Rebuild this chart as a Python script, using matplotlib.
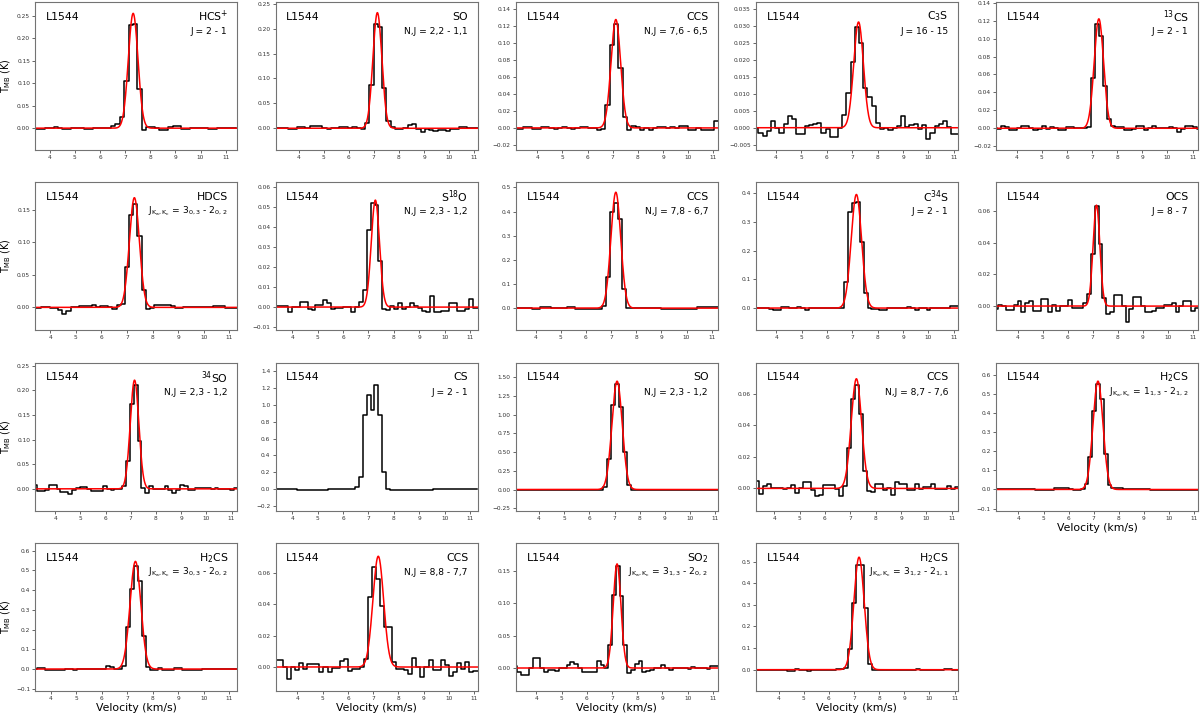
import numpy as np
import matplotlib
matplotlib.use("Agg")
import matplotlib.pyplot as plt
from matplotlib.ticker import MultipleLocator

# ---------------- data ----------------
source = "L1544"
KK = r"J$_{\mathrm{K}_\mathrm{a},\mathrm{K}_\mathrm{c}}$"

molecules = ["HCS$^{+}$", "SO", "CCS", "C$_3$S", "$^{13}$CS",
             "HDCS", "S$^{18}$O", "CCS", "C$^{34}$S", "OCS",
             "$^{34}$SO", "CS", "SO", "CCS", "H$_2$CS",
             "H$_2$CS", "CCS", "SO$_2$", "H$_2$CS"]
transitions = ["J = 2 - 1", "N,J = 2,2 - 1,1", "N,J = 7,6 - 6,5", "J = 16 - 15", "J = 2 - 1",
               KK + " = 3$_{0,3}$ - 2$_{0,2}$", "N,J = 2,3 - 1,2", "N,J = 7,8 - 6,7", "J = 2 - 1", "J = 8 - 7",
               "N,J = 2,3 - 1,2", "J = 2 - 1", "N,J = 2,3 - 1,2", "N,J = 8,7 - 7,6", KK + " = 1$_{1,3}$ - 2$_{1,2}$",
               KK + " = 3$_{0,3}$ - 2$_{0,2}$", "N,J = 8,8 - 7,7", KK + " = 3$_{1,3}$ - 2$_{0,2}$", KK + " = 3$_{1,2}$ - 2$_{1,1}$"]

# first channel velocity (km/s) and channel width (km/s) of each spectrum
v_first = [3.3725, 2.995, 3.011, 3.0625, 3.12,
           3.4155, 3.285, 3.144, 3.1825, 2.997,
           3.0615, 3.3335, 2.985, 3.157, 3.068,
           3.383, 3.03, 3.175, 2.99]
chan_width = [0.175, 0.17, 0.172, 0.165, 0.163,
              0.163, 0.155, 0.156, 0.155, 0.154,
              0.153, 0.153, 0.158, 0.158, 0.152,
              0.158, 0.16, 0.15, 0.16]

# brightness temperatures T_MB (K) per channel
T_hcsp = [-0.002, -0.002, -0.002, 0.0, 0.0, 0.002, 0.0, -0.002, -0.002, 0.0, 0.0, 0.0, -0.002, -0.002, 0.0, 0.0, 0.0, 0.0,
          0.005, 0.01, 0.025, 0.105, 0.23, 0.232, 0.088, -0.003,
          0.002, 0.002, 0.0, -0.004, -0.004, 0.003, 0.005, 0.004, -0.002, -0.002, 0.0, 0.0, 0.0, 0.0, -0.002, -0.002,
          0.0, 0.0, 0.001, 0.001, 0.0]
T_so_22 = [0.0, 0.0, 0.0, 0.0, -0.001, -0.002, 0.002, 0.002, 0.001, 0.004, 0.004, 0.004, 0.0, -0.001, 0.0, 0.0, 0.002,
           0.002, 0.001, 0.002, 0.0, -0.002,
           0.01, 0.087, 0.21, 0.203, 0.081, 0.015, 0.003,
           -0.001, -0.002, 0.0, 0.006, 0.009, -0.002, -0.007, -0.001, -0.004, -0.006, -0.004, -0.004, -0.006, -0.002,
           -0.001, 0.002, 0.002, 0.0, 0.0, 0.0]
T_ccs_76 = [-0.001, -0.001, -0.001, 0.001, 0.001, -0.001, -0.001, 0.001, 0.001, 0.0, -0.001, 0.0, 0.001, 0.0, -0.001,
            0.0, 0.001, 0.001, 0.0, 0.0, -0.002, -0.001,
            0.027, 0.098, 0.123, 0.071, 0.013, -0.003,
            0.002, 0.001, -0.003, 0.0, -0.002, 0.0, 0.001, 0.001, 0.0, 0.001, 0.0, 0.002, 0.002, -0.003, -0.002, 0.0,
            -0.003, -0.003, -0.003, 0.008, 0.008]
T_c3s = [0.0, 0.0, -0.0015, -0.0025, -0.001, 0.002, 0.0, -0.0015, 0.001, 0.0035, 0.0025, -0.0018, -0.0018, 0.0005,
         0.0008, 0.001, 0.0015, -0.0015, -0.0003, -0.0028, -0.0028, 0.0,
         0.0037, 0.0102, 0.0195, 0.0297, 0.0251, 0.0119, 0.009, 0.0065, 0.0015,
         -0.0005, 0.0, -0.0008, 0.0, 0.0005, 0.0034, 0.0002, 0.0008, 0.0012, -0.0005, 0.0008, -0.0034, -0.0015,
         0.0005, 0.001, 0.002, 0.0002, -0.0018, -0.0018, -0.0018]
T_13cs = [0.0, -0.001, 0.002, 0.001, -0.002, -0.002, 0.0, 0.002, 0.003, 0.0, -0.002, -0.001, 0.002, -0.001, 0.001, 0.0,
          -0.0015, -0.0015, 0.001, 0.001, 0.0, 0.0, 0.0, 0.001,
          0.0565, 0.116, 0.1026, 0.047, 0.0105,
          0.003, 0.001, 0.001, -0.002, -0.002, -0.001, 0.002, 0.002, -0.002, 0.0, 0.002, 0.0, 0.0, 0.0, 0.001, 0.0,
          -0.0045, -0.001, 0.002, 0.003, 0.001, -0.001]
T_hdcs = [-0.001, -0.001, 0.0, 0.0, -0.001, -0.001, -0.004, -0.010, -0.005, 0.0, 0.0, 0.0015, 0.0015, 0.0015, 0.0035,
          0.0, 0.002, 0.002, 0.0, -0.003, 0.0035, 0.005,
          0.0626, 0.142, 0.159, 0.110, 0.027, -0.0026,
          -0.001, 0.004, 0.004, 0.004, 0.004, 0.002, -0.0015, -0.0015, 0.0, 0.0, 0.0, 0.0, 0.0, 0.0, 0.0, 0.0025,
          0.0025, 0.0025, -0.001, -0.001, -0.001, -0.001]
T_s18o = [-0.001, 0.0007, 0.0007, 0.0007, -0.0027, 0.0, 0.0, 0.0027, 0.0027, -0.001, -0.0015, 0.0012, 0.0012, 0.0037,
          0.0018, -0.001, -0.0005, -0.0005, 0.0, 0.0, -0.0027, 0.0, 0.0027,
          0.0085, 0.0387, 0.052, 0.051, 0.0228, -0.001,
          -0.0015, 0.0007, -0.001, 0.0018, -0.001, 0.0, 0.0018, 0.0007, -0.0005, -0.0018, -0.0027, 0.0053, -0.0027,
          -0.0027, -0.0018, -0.0018, 0.0018, 0.0018, -0.0018, -0.0018, -0.0008, 0.004, -0.0005, -0.0005]
T_ccs_78 = [0.0, 0.0, 0.0, 0.0, 0.0, -0.004, -0.004, 0.003, 0.003, 0.003, -0.001, -0.001, -0.001, -0.001, 0.003, 0.003,
            -0.004, -0.004, -0.004, -0.004, -0.004, -0.004, -0.004,
            0.01, 0.131, 0.40, 0.437, 0.368, 0.079, 0.0,
            -0.001, -0.001, -0.001, -0.001, -0.001, -0.001, -0.001, -0.001, -0.004, -0.004, -0.004, -0.004, -0.004,
            -0.004, -0.002, -0.002, -0.002, 0.003, 0.003, 0.003, 0.003, 0.005, 0.005]
T_c34s = [0.0, 0.0, 0.0, 0.0, -0.002, -0.006, -0.006, 0.002, 0.005, 0.0, 0.0, 0.003, 0.0, -0.005, 0.0, 0.0, 0.0, 0.0,
          0.0, 0.001, 0.001, 0.001, 0.001,
          0.092, 0.333, 0.365, 0.368, 0.229, 0.051, 0.0,
          -0.002, -0.002, -0.005, -0.005, 0.0, 0.0, 0.0, 0.001, 0.001, 0.003, 0.0, -0.005, 0.0, 0.0, -0.005, -0.001,
          -0.001, -0.001, -0.001, -0.001, 0.007, 0.007, 0.007]
T_ocs = [-0.002, -0.002, 0.001, 0.0, -0.0025, -0.0025, 0.001, 0.003, -0.0038, 0.0017, 0.003, -0.003, -0.003, 0.0046,
         0.0046, -0.004, 0.001, -0.003, 0.0, 0.0, 0.004, -0.001, -0.001, -0.001, 0.002,
         0.0073, 0.033, 0.063, 0.0388, 0.0052, -0.0052, -0.0038, 0.0067, 0.0067,
         0.0, -0.01, -0.002, 0.006, 0.006, 0.0, -0.004, -0.004, -0.003, -0.001, -0.001, 0.001, 0.001, 0.0017, -0.004,
         0.0, 0.003, 0.003, -0.003, -0.001, -0.001]
T_34so = [0.007, 0.007, -0.0035, -0.0035, -0.002, 0.007, 0.007, 0.0, -0.007, -0.007, -0.01, -0.003, 0.002, 0.0047,
          0.0047, 0.0, -0.005, -0.005, -0.005, 0.0054, 0.0, -0.002, 0.0, 0.0, 0.005,
          0.0576, 0.173, 0.212, 0.097, 0.002, -0.008,
          0.0054, 0.0, 0.0, 0.0, 0.0054, -0.003, -0.008, -0.002, 0.0088, 0.005, -0.0027, -0.002, 0.001, 0.001, 0.001,
          0.001, 0.0, 0.001, -0.0007, -0.0007, -0.0007, -0.0027, 0.002, 0.002]
T_cs = [0.0, 0.0, 0.0, 0.0, 0.0, 0.0, -0.01, -0.01, -0.01, -0.01, -0.01, -0.01, -0.01, -0.01, 0.0, 0.0, 0.0, 0.0, 0.0,
        0.0, 0.005,
        0.024, 0.146, 0.877, 1.115, 0.945, 1.24, 0.877, 0.2, 0.0,
        -0.005, -0.005, -0.005, -0.005, -0.01, -0.01, -0.01, -0.01, -0.005, -0.005, -0.005, 0.0, 0.0, 0.0, 0.0, 0.0,
        0.0, 0.0, 0.0, 0.0, 0.0, 0.0, 0.0]
T_so_23 = [0.0, 0.0, 0.0, 0.0, 0.0, 0.0, -0.005, -0.005, -0.005, 0.0, 0.0, 0.0, 0.0, 0.0, 0.0, -0.005, -0.005, 0.0, 0.0,
           0.0, 0.0, 0.0, 0.0,
           0.03, 0.41, 1.13, 1.415, 1.107, 0.50, 0.067, 0.0,
           0.0, 0.0, 0.0, -0.005, -0.005, 0.0, 0.0, 0.0, 0.0, -0.005, -0.005, -0.005, 0.0, 0.0, 0.0, 0.0, 0.0, 0.0, 0.0,
           0.0, 0.0, 0.0]
T_ccs_87 = [0.0047, 0.0047, -0.0034, 0.0015, 0.0025, 0.0, 0.0, 0.0, -0.0003, 0.0003, 0.002, -0.0032, 0.0, 0.004, 0.004,
            -0.001, -0.005, -0.004, 0.002, 0.002, 0.002, -0.0005, -0.005, 0.0015,
            0.0255, 0.0567, 0.0656, 0.047, 0.011, -0.0017,
            -0.002, 0.0025, 0.0025, -0.001, 0.0, -0.004, 0.004, 0.0025, 0.0025, -0.0013, -0.0013, 0.0025, -0.0005,
            0.0008, 0.0008, 0.0025, -0.0005, -0.0002, -0.0002, 0.0015, -0.0002, 0.0008, 0.0008]
T_h2cs_113 = [0.0, 0.0, 0.0, 0.0, 0.004, 0.004, 0.004, 0.0, 0.0, 0.0, 0.0, -0.005, -0.005, -0.005, -0.002, -0.002,
              0.009, 0.009, 0.009, 0.009, 0.003, -0.005, -0.005, 0.003,
              0.03, 0.172, 0.412, 0.553, 0.474, 0.188, 0.026, 0.008,
              0.009, 0.009, 0.002, 0.002, 0.002, 0.002, 0.002, 0.0, 0.0, -0.005, -0.005, -0.002, -0.002, -0.002,
              -0.002, -0.002, -0.002, -0.002, -0.002, -0.002, -0.002, -0.002, -0.002]
T_h2cs_303 = [0.0, 0.005, 0.005, -0.007, -0.004, -0.003, -0.003, -0.003, 0.0, 0.0, -0.007, -0.002, -0.002, -0.002,
              -0.002, -0.002, 0.0, 0.0, 0.015, 0.01, 0.0, 0.0,
              0.013, 0.214, 0.404, 0.524, 0.446, 0.169, 0.01, -0.005,
              -0.003, 0.005, -0.003, -0.007, -0.007, 0.005, 0.005, -0.003, -0.003, -0.003, -0.003, -0.003, 0.0, 0.0,
              0.0, 0.0, 0.0, 0.002, 0.002, 0.002, 0.002, 0.002]
T_ccs_88 = [-0.002, 0.0042, 0.0042, 0.0, -0.0074, 0.0, -0.002, 0.0027, -0.001, 0.0017, 0.0017, 0.0017, -0.003, 0.0,
            -0.003, -0.0005, -0.0005, 0.0036, 0.0053, -0.0027, -0.001, -0.001, 0.0,
            0.0053, 0.0446, 0.0638, 0.0558, 0.039, 0.0257, 0.0257, 0.003, -0.001,
            -0.001, -0.002, -0.0046, 0.006, 0.0, -0.0063, 0.0, 0.0046, -0.0017, -0.0017, 0.0046, 0.001, -0.006, -0.003,
            0.0025, -0.001, 0.003, -0.003, -0.0027, -0.0027]
T_so2 = [0.0026, -0.006, -0.011, -0.011, 0.0, 0.0154, 0.0154, 0.0, -0.006, -0.0036, -0.0036, -0.004, 0.0, 0.0005, 0.005,
         0.009, 0.0067, 0.0, -0.006, -0.006, -0.006, -0.006, 0.011, 0.005, 0.0,
         0.035, 0.1125, 0.158, 0.112, 0.035, -0.0077,
         -0.0036, 0.0067, 0.011, -0.006, -0.005, -0.0026, 0.0005, 0.0005, 0.004, 0.0005, -0.0026, 0.0, 0.0, 0.0, 0.0,
         -0.002, 0.0015, 0.0005, 0.0005, 0.0005, -0.001, 0.0026, 0.0026, 0.0026]
T_h2cs_312 = [0.0, 0.0, 0.0, 0.0, 0.0, -0.003, 0.0, 0.0, 0.0, -0.005, -0.005, 0.003, -0.002, -0.002, -0.006, 0.0, 0.0,
              0.0, 0.0, 0.0, 0.0, 0.002, 0.002,
              0.009, 0.097, 0.309, 0.486, 0.483, 0.283, 0.028, -0.003,
              -0.002, -0.002, -0.002, -0.002, -0.002, 0.0, 0.0, 0.0, 0.0, 0.0, 0.003, -0.003, -0.003, 0.0, 0.0, 0.0,
              0.0, 0.003, 0.003, 0.0, 0.0]

spectra = [T_hcsp, T_so_22, T_ccs_76, T_c3s, T_13cs,
           T_hdcs, T_s18o, T_ccs_78, T_c34s, T_ocs,
           T_34so, T_cs, T_so_23, T_ccs_87, T_h2cs_113,
           T_h2cs_303, T_ccs_88, T_so2, T_h2cs_312]

# Gaussian fits: peak T_MB (K), centre velocity (km/s), FWHM (km/s); None = no fit
fit_amp = [0.256, 0.232, 0.128, 0.0313, 0.122,
           0.169, 0.0535, 0.48, 0.395, 0.0635,
           0.221, None, 1.45, 0.0695, 0.57,
           0.545, 0.0705, 0.161, 0.52]
fit_v0 = [7.32, 7.14, 7.12, 7.25, 7.27,
          7.29, 7.27, 7.19, 7.16, 7.15,
          7.15, None, 7.10, 7.24, 7.17,
          7.32, 7.20, 7.20, 7.20]
fit_fwhm = [0.45, 0.42, 0.45, 0.45, 0.44,
            0.46, 0.38, 0.46, 0.48, 0.32,
            0.40, None, 0.48, 0.48, 0.47,
            0.50, 0.50, 0.36, 0.48]

# axis ranges and y tick steps
x_lo = [3.43, 3.08, 3.14, 3.21, 3.18, 3.42, 3.34, 3.21, 3.20, 3.14,
        3.21, 3.34, 3.08, 3.28, 3.11, 3.39, 3.13, 3.18, 3.10]
x_hi = [11.46, 11.13, 11.17, 11.16, 11.22, 11.31, 11.29, 11.24, 11.16, 11.21,
        11.23, 11.29, 11.09, 11.24, 11.16, 11.32, 11.13, 11.19, 11.13]
y_lo = [-0.048, -0.043, -0.0257, -0.0065, -0.0239, -0.035, -0.0115, -0.091, -0.0766, -0.0151,
        -0.044, -0.253, -0.281, -0.014, -0.1105, -0.1106, -0.0152, -0.0354, -0.098]
y_hi = [0.282, 0.254, 0.149, 0.0373, 0.1411, 0.193, 0.0625, 0.522, 0.438, 0.078,
        0.2568, 1.503, 1.70, 0.0798, 0.668, 0.6385, 0.079, 0.1935, 0.586]
y_step = [0.05, 0.05, 0.02, 0.005, 0.02, 0.05, 0.01, 0.1, 0.1, 0.02,
          0.05, 0.2, 0.25, 0.02, 0.1, 0.1, 0.02, 0.05, 0.1]
x_ticks = [4, 5, 6, 7, 8, 9, 10, 11]

# ---------------- figure ----------------
W, H = 1200, 716
fig = plt.figure(figsize=(W / 100, H / 100), dpi=100)
pw, ph = 202, 148
n_cols = 5

for i, T in enumerate(spectra):
    r, c = divmod(i, n_cols)
    left = 35.3 + 240.2 * c
    top = 1.7 + 180.4 * r
    ax = fig.add_axes([left / W, 1 - (top + ph) / H, pw / W, ph / H])

    T = np.asarray(T)
    v = v_first[i] + chan_width[i] * np.arange(len(T))
    ax.step(v, T, where="mid", color="black", lw=1.1)
    if fit_amp[i] is not None:
        vf = np.linspace(x_lo[i], x_hi[i], 800)
        sig = fit_fwhm[i] / (2 * np.sqrt(2 * np.log(2)))
        ax.plot(vf, fit_amp[i] * np.exp(-0.5 * ((vf - fit_v0[i]) / sig) ** 2),
                color="red", lw=1.1)

    ax.set_xlim(x_lo[i], x_hi[i])
    ax.set_ylim(y_lo[i], y_hi[i])
    ax.set_xticks(x_ticks)
    ax.yaxis.set_major_locator(MultipleLocator(y_step[i]))
    ax.tick_params(labelsize=4.2, length=2.2, width=0.6, pad=1.5,
                   color="0.3", labelcolor="0.2")
    for s in ax.spines.values():
        s.set_linewidth(0.8)
        s.set_color("0.45")

    ax.text(0.053, 0.90, source, transform=ax.transAxes, fontsize=7.8,
            ha="left", va="center")
    ax.text(0.954, 0.90, molecules[i], transform=ax.transAxes, fontsize=7.8,
            ha="right", va="center")
    ax.text(0.952, 0.80, transitions[i], transform=ax.transAxes, fontsize=6.6,
            ha="right", va="center")

    if c == 0:
        ax.set_ylabel(r"T$_{\rm MB}$ (K)", fontsize=6.9)
        ax.yaxis.set_label_coords(-0.112, 0.5)
    if r == 3 or i == 14:
        ax.set_xlabel("Velocity (km/s)", fontsize=7.8)
        ax.xaxis.set_label_coords(0.5, -0.085)

fig.savefig("out.png", dpi=100)
